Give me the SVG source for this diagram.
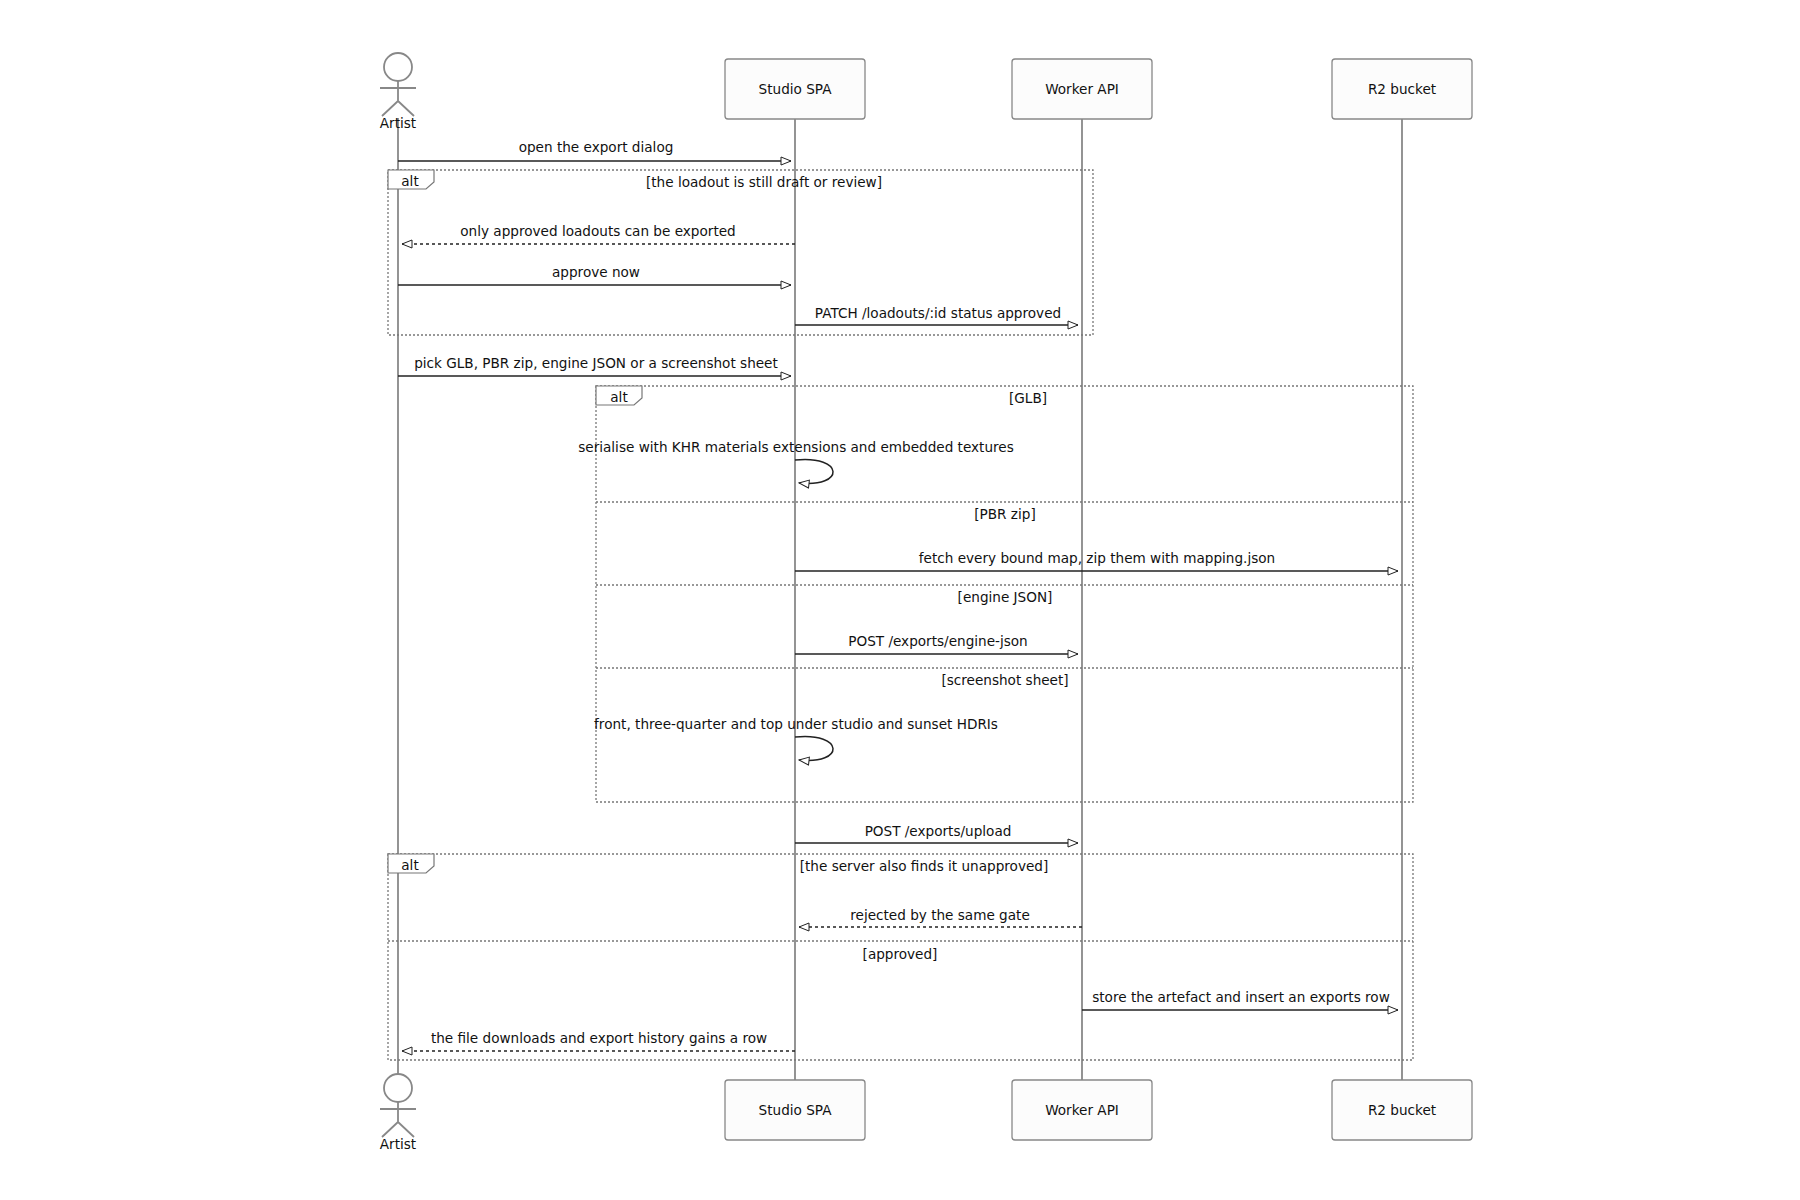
<svg xmlns="http://www.w3.org/2000/svg" width="1800" height="1200" viewBox="0 0 1800 1200">
<style>
text{font-family:"DejaVu Sans",sans-serif;font-size:13.6px;fill:#111;text-anchor:middle}
.box{fill:#fcfcfc;stroke:#888;stroke-width:1.3}
.life{stroke:#888;stroke-width:1.8}
.msg{stroke:#222;stroke-width:1.5;fill:none}
.dash{stroke-dasharray:3,3}
.frame{fill:none;stroke:#777;stroke-width:1.3;stroke-dasharray:2,2}
.act{fill:none;stroke:#888;stroke-width:1.8}
.lab{fill:#fff;stroke:#777;stroke-width:1.2}
</style>
<defs><marker id="a" markerWidth="12" markerHeight="10" refX="11" refY="5" orient="auto" markerUnits="userSpaceOnUse"><path d="M1,1 L11,5 L1,9 Z" fill="#fff" stroke="#222" stroke-width="1"/></marker></defs>
<g id="lifelines">
<line class="life" x1="398" y1="118" x2="398" y2="1074"/>
<line class="life" x1="795" y1="118" x2="795" y2="1080"/>
<line class="life" x1="1082" y1="118" x2="1082" y2="1080"/>
<line class="life" x1="1402" y1="118" x2="1402" y2="1080"/>
</g>
<g id="artist-top"><circle class="act" cx="398" cy="67" r="14"/><path class="act" d="M398 81V101M380 88H416M398 101L382 116M398 101L414 116"/><text x="398" y="128">Artist</text></g>
<g id="spa-top"><rect class="box" x="725" y="59" width="140" height="60" rx="3"/><text x="795" y="94">Studio SPA</text></g>
<g id="worker-top"><rect class="box" x="1012" y="59" width="140" height="60" rx="3"/><text x="1082" y="94">Worker API</text></g>
<g id="r2-top"><rect class="box" x="1332" y="59" width="140" height="60" rx="3"/><text x="1402" y="94">R2 bucket</text></g>
<g id="artist-bottom"><circle class="act" cx="398" cy="1088" r="14"/><path class="act" d="M398 1102V1122M380 1109H416M398 1122L382 1137M398 1122L414 1137"/><text x="398" y="1149">Artist</text></g>
<g id="spa-bottom"><rect class="box" x="725" y="1080" width="140" height="60" rx="3"/><text x="795" y="1115">Studio SPA</text></g>
<g id="worker-bottom"><rect class="box" x="1012" y="1080" width="140" height="60" rx="3"/><text x="1082" y="1115">Worker API</text></g>
<g id="r2-bottom"><rect class="box" x="1332" y="1080" width="140" height="60" rx="3"/><text x="1402" y="1115">R2 bucket</text></g>
<g id="frames">
<rect class="frame" x="388" y="170" width="705" height="165"/>
<path class="lab" d="M388 170H434V182L426 189H388Z"/><text x="410" y="186">alt</text>
<text x="764" y="187">[the loadout is still draft or review]</text>
<rect class="frame" x="596" y="386" width="817" height="416"/>
<path class="lab" d="M596 386H642V398L634 405H596Z"/><text x="619" y="402">alt</text>
<text x="1028" y="403">[GLB]</text>
<line class="frame" x1="596" y1="502" x2="1413" y2="502"/><text x="1005" y="519">[PBR zip]</text>
<line class="frame" x1="596" y1="585" x2="1413" y2="585"/><text x="1005" y="602">[engine JSON]</text>
<line class="frame" x1="596" y1="668" x2="1413" y2="668"/><text x="1005" y="685">[screenshot sheet]</text>
<rect class="frame" x="388" y="854" width="1025" height="206"/>
<path class="lab" d="M388 854H434V866L426 873H388Z"/><text x="410" y="870">alt</text>
<text x="924" y="871">[the server also finds it unapproved]</text>
<line class="frame" x1="388" y1="941" x2="1413" y2="941"/><text x="900" y="959">[approved]</text>
</g>
<g id="connectors">
<line class="msg" x1="398" y1="161" x2="791" y2="161" marker-end="url(#a)"/><text x="596" y="152">open the export dialog</text>
<line class="msg dash" x1="795" y1="244" x2="402" y2="244" marker-end="url(#a)"/><text x="598" y="236">only approved loadouts can be exported</text>
<line class="msg" x1="398" y1="285" x2="791" y2="285" marker-end="url(#a)"/><text x="596" y="277">approve now</text>
<line class="msg" x1="795" y1="325" x2="1078" y2="325" marker-end="url(#a)"/><text x="938" y="318">PATCH /loadouts/:id status approved</text>
<line class="msg" x1="398" y1="376" x2="791" y2="376" marker-end="url(#a)"/><text x="596" y="368">pick GLB, PBR zip, engine JSON or a screenshot sheet</text>
<path class="msg" d="M795 460C845 455 845 488 799 483" marker-end="url(#a)"/><text x="796" y="452">serialise with KHR materials extensions and embedded textures</text>
<line class="msg" x1="795" y1="571" x2="1398" y2="571" marker-end="url(#a)"/><text x="1097" y="563">fetch every bound map, zip them with mapping.json</text>
<line class="msg" x1="795" y1="654" x2="1078" y2="654" marker-end="url(#a)"/><text x="938" y="646">POST /exports/engine-json</text>
<path class="msg" d="M795 737C845 732 845 765 799 760" marker-end="url(#a)"/><text x="796" y="729">front, three-quarter and top under studio and sunset HDRIs</text>
<line class="msg" x1="795" y1="843" x2="1078" y2="843" marker-end="url(#a)"/><text x="938" y="836">POST /exports/upload</text>
<line class="msg dash" x1="1082" y1="927" x2="799" y2="927" marker-end="url(#a)"/><text x="940" y="920">rejected by the same gate</text>
<line class="msg" x1="1082" y1="1010" x2="1398" y2="1010" marker-end="url(#a)"/><text x="1241" y="1002">store the artefact and insert an exports row</text>
<line class="msg dash" x1="795" y1="1051" x2="402" y2="1051" marker-end="url(#a)"/><text x="599" y="1043">the file downloads and export history gains a row</text>
</g>
</svg>
